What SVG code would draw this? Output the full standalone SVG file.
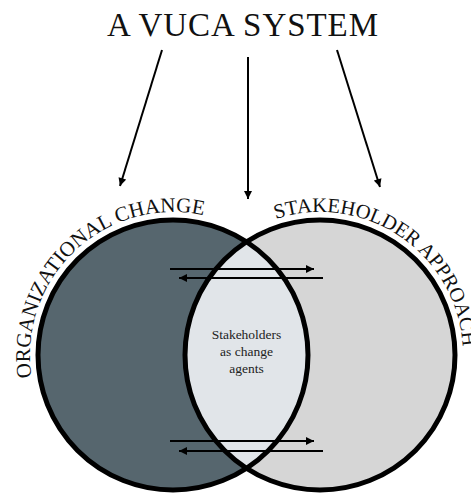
<svg xmlns="http://www.w3.org/2000/svg" width="471" height="493" viewBox="0 0 471 493">
<style>
.serif{font-family:"Liberation Serif","Times New Roman",serif;}
.ring{fill:none;stroke:#000;stroke-width:5;}
.conn{stroke:#000;stroke-width:2;fill:none;}
.arc{fill:#111;}
</style>
<defs>
<marker id="ah" viewBox="0 0 10 10" refX="10" refY="5" markerWidth="9" markerHeight="8" markerUnits="userSpaceOnUse" orient="auto"><path d="M0,0 L10,5 L0,10 z" fill="#000"/></marker>
<path id="arcL" d="M31.76,377.37 A143,143 0 0 1 244.5,231.2"/>
<path id="arcR" d="M275.81,219 A143,143 0 0 1 454.38,403.91"/>
</defs>
<rect width="471" height="493" fill="#fff"/>
<g id="title">
<text class="serif" x="242.5" y="36" font-size="33" text-anchor="middle" textLength="271" lengthAdjust="spacing" fill="#111">A VUCA SYSTEM</text>
</g>
<g id="organizational-change">
<circle cx="173" cy="355" r="135" fill="#56666e"/>
</g>
<g id="stakeholder-approach">
<circle cx="320" cy="355" r="135" fill="#d6d6d6"/>
</g>
<g id="stakeholders-as-change-agents">
<path d="M246.5,241.8 A135,135 0 0 0 246.5,468.2 A135,135 0 0 0 246.5,241.8 z" fill="#e1e5e9"/>
</g>
<g id="outlines">
<circle class="ring" cx="173" cy="355" r="135"/>
<circle class="ring" cx="320" cy="355" r="135"/>
</g>
<g id="labels">
<text class="serif arc" font-size="21"><textPath href="#arcL">ORGANIZATIONAL CHANGE</textPath></text>
<text class="serif arc" font-size="20.5"><textPath href="#arcR">STAKEHOLDER APPROACH</textPath></text>
<text class="serif" font-size="13.5" fill="#222" text-anchor="middle"><tspan x="246.5" y="339">Stakeholders</tspan><tspan x="246.5" y="356">as change</tspan><tspan x="246.5" y="373">agents</tspan></text>
</g>
<g id="connectors">
<line class="conn" x1="162" y1="50" x2="120" y2="186" marker-end="url(#ah)"/>
<line class="conn" x1="248" y1="57" x2="248" y2="199" marker-end="url(#ah)"/>
<line class="conn" x1="337" y1="50" x2="380" y2="187" marker-end="url(#ah)"/>
<line class="conn" x1="170" y1="269" x2="314" y2="269" marker-end="url(#ah)"/>
<line class="conn" x1="323" y1="278" x2="179" y2="278" marker-end="url(#ah)"/>
<line class="conn" x1="170" y1="441" x2="314" y2="441" marker-end="url(#ah)"/>
<line class="conn" x1="323" y1="451" x2="179" y2="451" marker-end="url(#ah)"/>
</g>
</svg>
